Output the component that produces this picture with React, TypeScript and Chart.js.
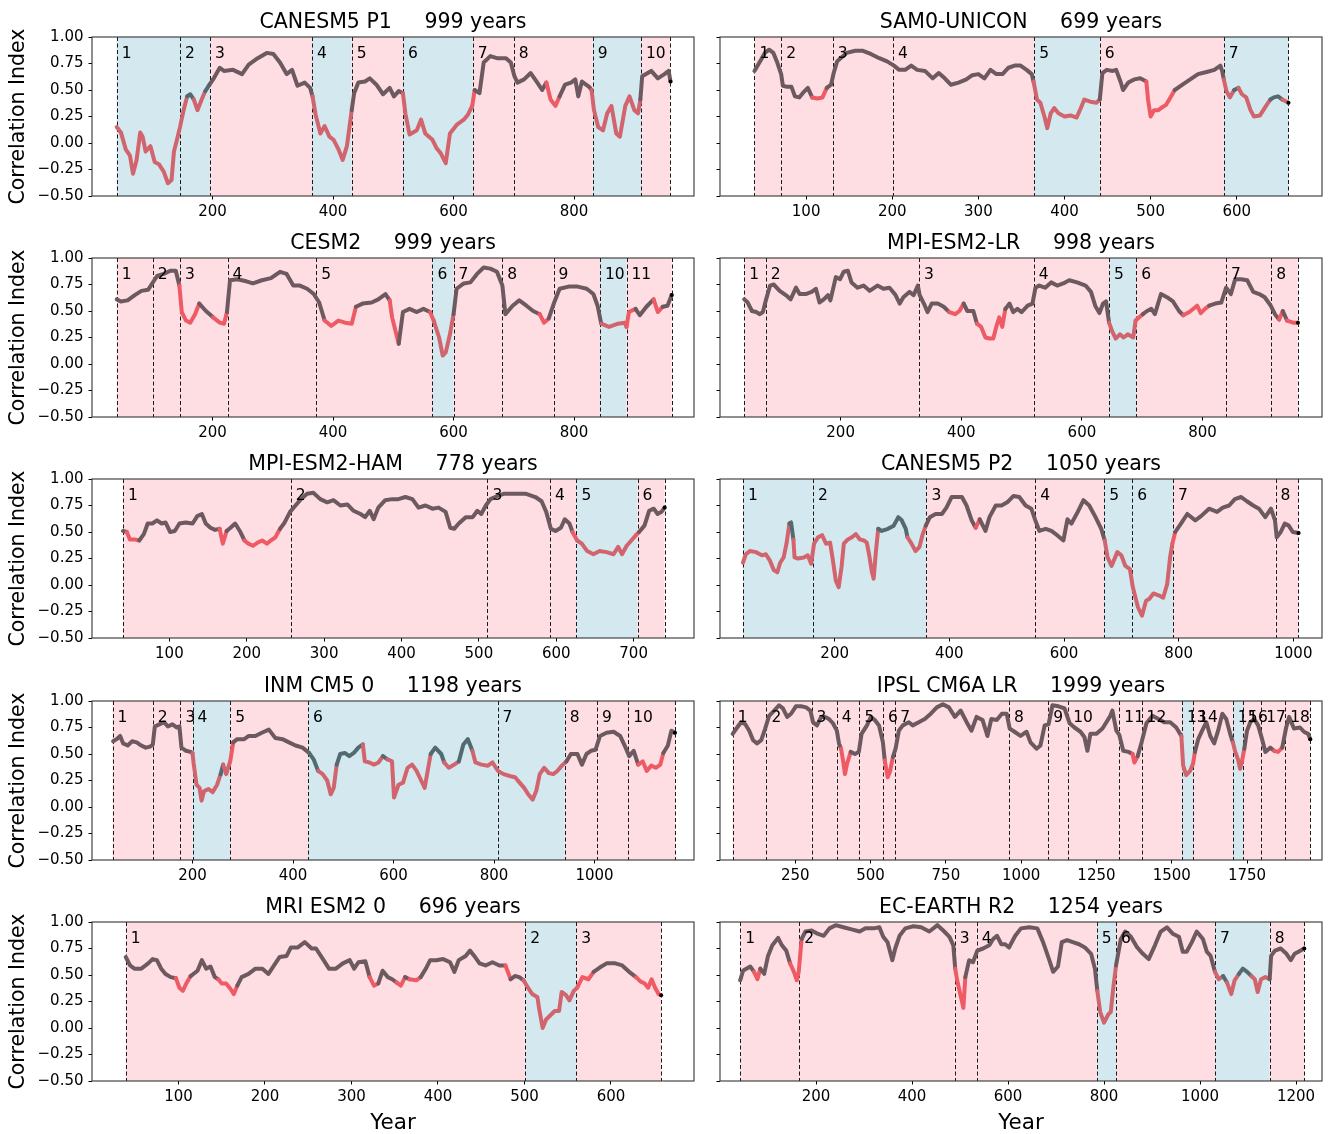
import React, { useEffect, useRef } from 'react';
import { Chart, registerables } from 'chart.js';

Chart.register(...registerables);
Chart.defaults.font.family = "'DejaVu Sans', sans-serif";
Chart.defaults.color = '#000';

// ---------- Data ----------
const PANEL_NAMES = ['CANESM5 P1', 'SAM0-UNICON', 'CESM2', 'MPI-ESM2-LR', 'MPI-ESM2-HAM', 'CANESM5 P2', 'INM CM5 0', 'IPSL CM6A LR', 'MRI ESM2 0', 'EC-EARTH R2'];
const PANEL_YEARS = [999, 699, 999, 998, 778, 1050, 1198, 1999, 696, 1254];
const X_TICKS = [
  [200, 400, 600, 800],
  [100, 200, 300, 400, 500, 600],
  [200, 400, 600, 800],
  [200, 400, 600, 800],
  [100, 200, 300, 400, 500, 600, 700],
  [200, 400, 600, 800, 1000],
  [200, 400, 600, 800, 1000],
  [250, 500, 750, 1000, 1250, 1500, 1750],
  [100, 200, 300, 400, 500, 600],
  [200, 400, 600, 800, 1000, 1200],
];
const Y_TICK_STEP = 0.25;
const Y_MIN = -0.5;
const Y_MAX = 1.0;

// Dashed boundaries of numbered periods, period colours (p = pink, b = blue), low-correlation (red) spans, series
const P1_BOUNDS = [41, 146, 196, 365, 431, 516, 632, 700, 831, 911, 960];
const P1_KINDS = 'bbpbpbppbp';
const P1_RED = [[41, 158], [170, 190], [365, 432], [480, 486], [499, 503], [516, 633], [756, 778], [805, 809], [831, 911]];
const P1_SERIES = [[41,0.15],[48,0.10],[56,-0.06],[63,-0.12],[68,-0.29],[74,-0.16],[80,0.10],[84,0.06],[89,-0.08],[97,-0.03],[104,-0.18],[111,-0.20],[119,-0.27],[126,-0.38],[132,-0.35],[136,-0.08],[141,0.03],[146,0.15],[152,0.31],[158,0.44],[163,0.46],[169,0.41],[175,0.31],[182,0.41],[188,0.49],[195,0.55],[201,0.60],[212,0.71],[219,0.68],[234,0.69],[249,0.65],[260,0.74],[275,0.80],[290,0.85],[301,0.84],[312,0.76],[323,0.65],[332,0.69],[341,0.54],[353,0.57],[362,0.52],[366,0.44],[371,0.27],[379,0.09],[386,0.16],[394,0.06],[401,0.03],[409,-0.06],[416,-0.16],[423,-0.03],[431,0.31],[435,0.47],[442,0.57],[453,0.58],[461,0.61],[472,0.55],[483,0.46],[494,0.52],[501,0.44],[509,0.49],[516,0.47],[520,0.28],[527,0.08],[539,0.12],[546,0.22],[553,0.09],[565,0.03],[572,-0.05],[579,-0.10],[587,-0.19],[594,0.09],[605,0.17],[617,0.22],[624,0.27],[631,0.35],[635,0.50],[643,0.47],[650,0.76],[661,0.82],[672,0.80],[687,0.80],[695,0.76],[701,0.63],[706,0.57],[717,0.60],[728,0.66],[739,0.57],[747,0.50],[754,0.57],[761,0.41],[769,0.35],[776,0.44],[785,0.55],[795,0.57],[802,0.60],[807,0.44],[813,0.58],[825,0.53],[829,0.50],[833,0.31],[840,0.15],[848,0.12],[855,0.28],[862,0.35],[870,0.09],[876,0.06],[885,0.35],[892,0.44],[900,0.31],[906,0.28],[910,0.41],[913,0.63],[928,0.68],[939,0.61],[950,0.65],[957,0.68],[960,0.58]];

const P2_BOUNDS = [40, 71, 131, 201, 365, 441, 585, 660];
const P2_KINDS = 'ppppbpb';
const P2_RED = [[106, 122], [365, 442], [496, 526], [586, 595], [604, 640], [651, 660]];
const P2_SERIES = [[40,0.68],[48,0.79],[52,0.85],[57,0.88],[62,0.85],[66,0.77],[71,0.65],[73,0.54],[78,0.53],[83,0.53],[87,0.44],[92,0.43],[96,0.47],[102,0.52],[107,0.43],[113,0.42],[119,0.43],[124,0.52],[129,0.55],[132,0.66],[136,0.77],[140,0.80],[147,0.85],[157,0.87],[166,0.87],[175,0.84],[185,0.80],[194,0.77],[202,0.73],[208,0.69],[215,0.69],[222,0.73],[229,0.69],[238,0.68],[247,0.61],[254,0.66],[261,0.61],[268,0.55],[277,0.57],[286,0.60],[293,0.64],[300,0.65],[307,0.61],[314,0.69],[321,0.65],[328,0.65],[335,0.71],[342,0.73],[349,0.73],[356,0.69],[362,0.65],[364,0.58],[366,0.50],[368,0.41],[372,0.38],[377,0.24],[380,0.14],[384,0.28],[388,0.33],[393,0.28],[400,0.25],[407,0.26],[414,0.24],[419,0.33],[423,0.41],[430,0.39],[437,0.38],[441,0.41],[444,0.66],[449,0.69],[456,0.68],[460,0.69],[465,0.58],[468,0.50],[474,0.57],[481,0.60],[488,0.61],[495,0.58],[497,0.41],[500,0.25],[504,0.31],[509,0.31],[514,0.34],[518,0.36],[523,0.43],[528,0.50],[537,0.55],[546,0.60],[555,0.65],[565,0.67],[574,0.69],[581,0.73],[583,0.68],[585,0.60],[588,0.49],[592,0.43],[597,0.50],[602,0.52],[606,0.46],[611,0.43],[616,0.31],[620,0.25],[627,0.26],[634,0.35],[639,0.41],[643,0.43],[648,0.44],[653,0.41],[660,0.38]];

const P3_BOUNDS = [41, 101, 146, 225, 372, 565, 600, 681, 766, 843, 887, 962];
const P3_KINDS = 'pppppbpppbp';
const P3_RED = [[147, 176], [198, 226], [383, 440], [495, 512], [563, 601], [745, 762], [843, 889], [895, 905], [935, 943]];
const P3_SERIES = [[41,0.61],[48,0.59],[59,0.60],[71,0.65],[82,0.69],[93,0.70],[100,0.76],[108,0.83],[119,0.85],[130,0.88],[139,0.88],[145,0.74],[149,0.49],[156,0.41],[163,0.39],[171,0.47],[178,0.57],[189,0.50],[201,0.44],[212,0.39],[219,0.38],[224,0.49],[229,0.79],[241,0.80],[256,0.78],[267,0.76],[282,0.79],[297,0.81],[312,0.87],[323,0.85],[334,0.74],[345,0.74],[357,0.71],[368,0.66],[377,0.58],[386,0.41],[397,0.36],[409,0.41],[420,0.39],[431,0.38],[438,0.54],[449,0.57],[464,0.58],[475,0.61],[487,0.66],[494,0.60],[498,0.44],[505,0.28],[509,0.19],[516,0.49],[527,0.52],[539,0.49],[550,0.52],[561,0.49],[567,0.41],[576,0.25],[582,0.08],[587,0.11],[594,0.28],[600,0.47],[605,0.71],[617,0.76],[628,0.77],[639,0.85],[650,0.91],[661,0.90],[672,0.87],[681,0.74],[686,0.47],[698,0.55],[709,0.60],[721,0.55],[732,0.50],[743,0.47],[750,0.39],[758,0.43],[767,0.58],[776,0.71],[791,0.73],[806,0.73],[821,0.71],[832,0.66],[839,0.55],[845,0.38],[858,0.35],[873,0.38],[884,0.39],[887,0.35],[891,0.49],[902,0.52],[909,0.46],[920,0.54],[932,0.61],[939,0.49],[947,0.54],[955,0.55],[962,0.65]];

const P4_BOUNDS = [40, 76, 330, 520, 645, 690, 839, 914, 958];
const P4_KINDS = 'ppppbppp';
const P4_RED = [[378, 402], [426, 473], [645, 704], [766, 810], [926, 932], [940, 960]];
const P4_SERIES = [[40,0.61],[46,0.58],[53,0.50],[60,0.49],[66,0.47],[71,0.49],[76,0.60],[83,0.74],[89,0.75],[99,0.69],[109,0.65],[117,0.61],[126,0.72],[132,0.66],[142,0.66],[152,0.68],[159,0.71],[165,0.58],[172,0.61],[179,0.65],[183,0.60],[192,0.82],[199,0.80],[205,0.87],[212,0.88],[218,0.77],[228,0.72],[238,0.74],[248,0.69],[261,0.74],[271,0.71],[281,0.72],[291,0.65],[298,0.57],[304,0.63],[314,0.68],[321,0.65],[328,0.74],[331,0.65],[338,0.57],[344,0.49],[351,0.57],[361,0.57],[371,0.54],[380,0.49],[390,0.47],[397,0.50],[404,0.57],[410,0.50],[420,0.50],[426,0.38],[433,0.35],[440,0.25],[447,0.24],[453,0.24],[458,0.35],[463,0.44],[468,0.35],[473,0.52],[480,0.57],[486,0.49],[493,0.52],[500,0.49],[510,0.55],[518,0.57],[523,0.72],[529,0.74],[539,0.72],[549,0.77],[559,0.74],[569,0.76],[579,0.79],[592,0.77],[606,0.74],[615,0.68],[622,0.55],[629,0.48],[635,0.57],[640,0.59],[645,0.39],[650,0.31],[656,0.24],[663,0.28],[669,0.25],[676,0.28],[685,0.25],[689,0.41],[695,0.44],[701,0.47],[708,0.50],[715,0.52],[721,0.47],[731,0.66],[741,0.63],[751,0.59],[761,0.50],[768,0.46],[778,0.49],[791,0.55],[797,0.48],[804,0.52],[811,0.55],[821,0.57],[831,0.58],[839,0.72],[847,0.66],[854,0.80],[864,0.80],[874,0.79],[884,0.68],[894,0.66],[903,0.63],[913,0.55],[920,0.47],[927,0.42],[933,0.50],[940,0.41],[950,0.39],[958,0.39]];

const P5_BOUNDS = [40, 257, 511, 592, 626, 705, 740];
const P5_KINDS = 'ppppbp';
const P5_RED = [[47, 63], [166, 172], [195, 244], [620, 706]];
const P5_SERIES = [[40,0.51],[45,0.50],[49,0.43],[55,0.43],[61,0.42],[67,0.48],[72,0.58],[78,0.58],[84,0.61],[90,0.58],[95,0.59],[101,0.50],[107,0.51],[113,0.58],[121,0.59],[130,0.58],[136,0.65],[142,0.67],[147,0.58],[153,0.54],[159,0.52],[165,0.53],[169,0.39],[174,0.51],[179,0.54],[185,0.58],[191,0.51],[197,0.42],[202,0.39],[208,0.37],[214,0.40],[220,0.42],[226,0.39],[231,0.42],[237,0.45],[243,0.53],[249,0.59],[256,0.69],[263,0.75],[270,0.81],[278,0.86],[286,0.87],[295,0.81],[304,0.78],[312,0.80],[321,0.75],[330,0.76],[338,0.70],[347,0.67],[353,0.64],[359,0.70],[364,0.62],[370,0.73],[379,0.80],[388,0.81],[396,0.81],[405,0.83],[414,0.81],[422,0.73],[431,0.75],[440,0.72],[448,0.73],[457,0.69],[463,0.54],[468,0.53],[474,0.58],[483,0.64],[492,0.64],[498,0.70],[503,0.67],[509,0.75],[515,0.81],[524,0.84],[532,0.86],[547,0.86],[561,0.86],[573,0.83],[581,0.79],[587,0.69],[593,0.53],[599,0.51],[606,0.54],[611,0.62],[617,0.58],[621,0.50],[627,0.42],[633,0.39],[640,0.32],[648,0.29],[656,0.32],[665,0.31],[674,0.29],[680,0.36],[685,0.29],[691,0.37],[697,0.42],[703,0.47],[707,0.50],[714,0.56],[720,0.70],[726,0.72],[731,0.67],[736,0.69],[740,0.73]];

const P6_BOUNDS = [40, 162, 360, 550, 670, 719, 790, 969, 1009];
const P6_KINDS = 'bbppbbpp';
const P6_RED = [[40, 121], [128, 276], [326, 359], [446, 450], [671, 794]];
const P6_SERIES = [[40,0.21],[45,0.29],[52,0.32],[63,0.31],[73,0.28],[80,0.29],[87,0.23],[94,0.14],[100,0.12],[105,0.21],[111,0.26],[116,0.39],[121,0.58],[124,0.59],[128,0.43],[130,0.26],[136,0.25],[146,0.26],[153,0.28],[159,0.20],[164,0.39],[171,0.45],[178,0.47],[185,0.39],[192,0.40],[197,0.23],[202,0.04],[207,-0.02],[212,0.17],[216,0.39],[223,0.43],[230,0.45],[237,0.48],[244,0.43],[251,0.42],[256,0.40],[260,0.29],[265,0.12],[268,0.06],[272,0.32],[276,0.53],[282,0.51],[293,0.53],[303,0.56],[311,0.64],[317,0.61],[324,0.53],[327,0.45],[334,0.39],[341,0.32],[348,0.36],[353,0.47],[359,0.56],[366,0.64],[376,0.67],[387,0.67],[395,0.73],[404,0.83],[422,0.83],[430,0.75],[439,0.61],[446,0.54],[453,0.62],[463,0.51],[470,0.64],[481,0.75],[491,0.75],[501,0.78],[512,0.84],[522,0.83],[533,0.75],[543,0.72],[550,0.61],[557,0.51],[568,0.53],[578,0.51],[588,0.47],[599,0.42],[606,0.62],[613,0.58],[624,0.69],[634,0.80],[644,0.75],[655,0.64],[665,0.53],[671,0.42],[676,0.26],[683,0.18],[693,0.31],[700,0.28],[707,0.18],[715,0.15],[720,-0.02],[729,-0.21],[736,-0.29],[743,-0.15],[749,-0.13],[756,-0.08],[766,-0.10],[773,-0.12],[780,0.01],[785,0.26],[789,0.39],[794,0.50],[804,0.58],[815,0.67],[829,0.61],[839,0.65],[853,0.72],[867,0.69],[877,0.73],[888,0.75],[898,0.81],[909,0.83],[919,0.79],[930,0.75],[940,0.72],[951,0.64],[961,0.72],[968,0.61],[971,0.45],[978,0.50],[985,0.58],[992,0.56],[999,0.50],[1009,0.49]];

const P7_BOUNDS = [41, 121, 176, 200, 275, 430, 807, 941, 1005, 1067, 1161];
const P7_KINDS = 'pppbpbbppp';
const P7_RED = [[201, 258], [264, 279], [446, 490], [541, 577], [584, 672], [699, 734], [760, 942], [1084, 1135]];
const P7_SERIES = [[42,0.62],[49,0.64],[56,0.67],[62,0.60],[71,0.58],[80,0.62],[89,0.61],[98,0.58],[107,0.56],[116,0.57],[121,0.59],[125,0.76],[134,0.78],[143,0.80],[151,0.76],[160,0.78],[169,0.75],[174,0.76],[178,0.56],[187,0.53],[196,0.52],[200,0.51],[202,0.42],[208,0.21],[214,0.18],[218,0.06],[223,0.15],[232,0.17],[240,0.14],[249,0.21],[256,0.31],[261,0.40],[267,0.31],[275,0.43],[281,0.61],[289,0.64],[303,0.64],[312,0.67],[325,0.67],[338,0.70],[352,0.73],[365,0.65],[379,0.64],[392,0.61],[405,0.58],[419,0.56],[432,0.51],[441,0.45],[450,0.34],[459,0.31],[468,0.25],[475,0.12],[481,0.18],[487,0.40],[494,0.50],[503,0.51],[512,0.48],[521,0.51],[530,0.56],[539,0.59],[543,0.43],[552,0.42],[561,0.40],[570,0.42],[579,0.48],[588,0.45],[597,0.43],[601,0.09],[610,0.21],[619,0.23],[628,0.37],[637,0.40],[646,0.34],[655,0.25],[662,0.18],[668,0.34],[674,0.50],[683,0.56],[695,0.50],[701,0.42],[710,0.37],[721,0.40],[730,0.43],[739,0.59],[748,0.64],[757,0.53],[763,0.42],[775,0.40],[788,0.39],[797,0.42],[808,0.34],[819,0.31],[833,0.29],[842,0.28],[851,0.23],[860,0.18],[868,0.12],[877,0.07],[884,0.15],[891,0.31],[900,0.37],[909,0.32],[918,0.31],[926,0.34],[935,0.39],[944,0.43],[953,0.50],[966,0.50],[975,0.40],[984,0.50],[993,0.53],[1002,0.54],[1011,0.67],[1024,0.70],[1038,0.71],[1051,0.67],[1060,0.58],[1069,0.48],[1078,0.53],[1087,0.40],[1096,0.43],[1104,0.34],[1113,0.39],[1122,0.37],[1131,0.40],[1137,0.51],[1146,0.58],[1153,0.72],[1160,0.70]];

const P8_BOUNDS = [42, 154, 304, 388, 463, 541, 582, 960, 1090, 1156, 1326, 1400, 1534, 1571, 1703, 1737, 1797, 1877, 1960];
const P8_KINDS = 'ppppppppppppbpbppp';
const P8_RED = [[403, 428], [545, 572], [1372, 1392], [1534, 1575], [1706, 1738], [1835, 1870]];
const P8_SERIES = [[42,0.69],[57,0.75],[70,0.80],[84,0.78],[97,0.72],[110,0.63],[123,0.60],[137,0.63],[150,0.74],[163,0.86],[180,0.91],[196,0.96],[209,0.93],[223,0.85],[236,0.88],[252,0.95],[269,0.95],[286,0.94],[300,0.91],[309,0.80],[322,0.77],[336,0.85],[349,0.85],[362,0.83],[375,0.79],[388,0.72],[395,0.60],[402,0.55],[408,0.45],[415,0.31],[422,0.41],[434,0.52],[448,0.50],[461,0.52],[470,0.69],[488,0.77],[501,0.85],[514,0.82],[528,0.77],[541,0.61],[547,0.44],[557,0.28],[565,0.34],[574,0.47],[583,0.55],[594,0.72],[607,0.77],[627,0.80],[640,0.77],[660,0.80],[680,0.83],[700,0.88],[720,0.94],[740,0.97],[760,0.94],[780,0.85],[799,0.91],[819,0.80],[835,0.72],[852,0.85],[872,0.82],[888,0.67],[901,0.83],[919,0.82],[936,0.88],[952,0.88],[962,0.74],[978,0.71],[998,0.67],[1018,0.71],[1031,0.61],[1051,0.55],[1064,0.58],[1078,0.77],[1091,0.78],[1104,0.96],[1124,0.95],[1144,0.93],[1161,0.79],[1177,0.75],[1197,0.71],[1210,0.66],[1220,0.53],[1230,0.69],[1250,0.69],[1270,0.74],[1283,0.80],[1296,0.86],[1303,0.91],[1316,0.72],[1326,0.68],[1339,0.53],[1356,0.52],[1370,0.50],[1376,0.42],[1387,0.48],[1400,0.61],[1416,0.79],[1436,0.86],[1456,0.83],[1475,0.80],[1495,0.80],[1515,0.75],[1532,0.67],[1538,0.39],[1548,0.30],[1561,0.34],[1571,0.41],[1577,0.52],[1588,0.64],[1601,0.72],[1615,0.80],[1628,0.67],[1641,0.60],[1654,0.72],[1668,0.88],[1681,0.83],[1694,0.69],[1703,0.61],[1710,0.53],[1721,0.44],[1727,0.36],[1734,0.44],[1741,0.55],[1750,0.72],[1761,0.80],[1774,0.83],[1787,0.77],[1800,0.64],[1811,0.52],[1827,0.56],[1840,0.53],[1853,0.52],[1867,0.56],[1880,0.75],[1890,0.85],[1906,0.74],[1926,0.75],[1939,0.71],[1953,0.69],[1960,0.64]];

const P9_BOUNDS = [39, 501, 560, 658];
const P9_KINDS = 'pbp';
const P9_RED = [[98, 112], [145, 170], [320, 333], [354, 360], [365, 382], [480, 486], [500, 578], [631, 658]];
const P9_SERIES = [[39,0.67],[44,0.59],[49,0.56],[57,0.56],[65,0.61],[70,0.65],[75,0.64],[80,0.56],[85,0.51],[91,0.48],[97,0.47],[101,0.38],[105,0.35],[109,0.42],[114,0.49],[122,0.54],[127,0.64],[132,0.56],[137,0.58],[142,0.48],[146,0.46],[150,0.42],[155,0.42],[160,0.37],[164,0.32],[168,0.40],[173,0.48],[181,0.51],[189,0.56],[197,0.56],[204,0.51],[212,0.61],[217,0.67],[225,0.68],[230,0.76],[238,0.76],[246,0.81],[254,0.75],[259,0.75],[267,0.65],[274,0.56],[282,0.56],[290,0.61],[298,0.64],[303,0.56],[308,0.62],[316,0.63],[321,0.48],[326,0.40],[331,0.42],[336,0.54],[342,0.48],[347,0.46],[352,0.43],[357,0.40],[362,0.48],[367,0.46],[375,0.45],[380,0.48],[386,0.56],[391,0.64],[398,0.64],[406,0.65],[414,0.62],[419,0.53],[424,0.64],[432,0.68],[437,0.73],[442,0.68],[448,0.61],[455,0.59],[463,0.62],[471,0.59],[478,0.59],[484,0.46],[489,0.49],[494,0.48],[499,0.45],[504,0.38],[509,0.32],[515,0.29],[517,0.18],[521,0.00],[525,0.08],[530,0.12],[535,0.16],[540,0.16],[543,0.34],[548,0.31],[552,0.26],[557,0.35],[561,0.38],[567,0.48],[574,0.46],[580,0.53],[587,0.57],[595,0.61],[605,0.61],[613,0.59],[621,0.53],[629,0.48],[634,0.44],[639,0.42],[643,0.38],[647,0.46],[651,0.38],[655,0.32],[658,0.31]];

const P10_BOUNDS = [42, 165, 489, 535, 785, 825, 1031, 1145, 1217];
const P10_KINDS = 'ppppbpbp';
const P10_RED = [[74, 82], [148, 168], [489, 510], [525, 531], [784, 823], [1031, 1046], [1053, 1078], [1104, 1146]];
const P10_SERIES = [[42,0.45],[48,0.54],[55,0.56],[63,0.58],[71,0.53],[78,0.46],[84,0.56],[92,0.51],[100,0.68],[109,0.78],[121,0.85],[129,0.78],[138,0.73],[146,0.61],[154,0.53],[160,0.45],[164,0.53],[170,0.84],[178,0.91],[191,0.92],[203,0.89],[216,0.87],[228,0.94],[241,0.97],[257,0.95],[274,0.93],[291,0.91],[303,0.94],[320,0.94],[332,0.95],[340,0.86],[349,0.81],[359,0.64],[365,0.75],[374,0.87],[386,0.94],[403,0.96],[419,0.95],[436,0.91],[453,0.97],[465,0.92],[478,0.86],[486,0.78],[490,0.56],[494,0.45],[498,0.37],[503,0.27],[507,0.19],[511,0.48],[519,0.64],[527,0.62],[536,0.73],[548,0.75],[561,0.78],[569,0.84],[577,0.87],[586,0.79],[594,0.79],[602,0.76],[615,0.87],[627,0.94],[644,0.95],[661,0.94],[673,0.81],[686,0.64],[694,0.53],[704,0.58],[712,0.81],[723,0.83],[735,0.81],[748,0.79],[760,0.76],[773,0.70],[781,0.56],[786,0.35],[792,0.15],[800,0.05],[809,0.13],[814,0.15],[819,0.37],[825,0.59],[835,0.84],[844,0.91],[856,0.86],[869,0.76],[881,0.70],[893,0.65],[906,0.78],[918,0.91],[931,0.95],[943,0.89],[956,0.86],[964,0.72],[972,0.72],[983,0.81],[993,0.91],[1006,0.84],[1014,0.72],[1022,0.68],[1031,0.53],[1039,0.46],[1048,0.49],[1056,0.43],[1065,0.32],[1072,0.45],[1081,0.51],[1089,0.56],[1098,0.53],[1107,0.49],[1114,0.46],[1120,0.34],[1127,0.46],[1136,0.48],[1145,0.46],[1148,0.68],[1156,0.73],[1168,0.75],[1180,0.70],[1189,0.64],[1197,0.70],[1205,0.72],[1217,0.75]];

const ALL_BOUNDS = [P1_BOUNDS, P2_BOUNDS, P3_BOUNDS, P4_BOUNDS, P5_BOUNDS, P6_BOUNDS, P7_BOUNDS, P8_BOUNDS, P9_BOUNDS, P10_BOUNDS];
const ALL_KINDS = [P1_KINDS, P2_KINDS, P3_KINDS, P4_KINDS, P5_KINDS, P6_KINDS, P7_KINDS, P8_KINDS, P9_KINDS, P10_KINDS];
const ALL_RED = [P1_RED, P2_RED, P3_RED, P4_RED, P5_RED, P6_RED, P7_RED, P8_RED, P9_RED, P10_RED];
const ALL_SERIES = [P1_SERIES, P2_SERIES, P3_SERIES, P4_SERIES, P5_SERIES, P6_SERIES, P7_SERIES, P8_SERIES, P9_SERIES, P10_SERIES];

// ---------- Styles ----------
const PINK_BG = '#fedde3';
const BLUE_BG = '#d3e9ef';
const DARK_ON_PINK = '#6c5a60';
const DARK_ON_BLUE = '#536a70';
const RED_ON_PINK = '#ef5b65';
const RED_ON_BLUE = '#d2646d';
const FONT = "'DejaVu Sans', sans-serif";

const ROW_TOPS = [0, 221, 442, 664, 885];
const TITLE_H = 37;
const PLOT_H = 159;

function kindAt(bounds: number[], kinds: string, x: number) {
  for (let i = 0; i < bounds.length - 1; i++) {
    if (x >= bounds[i] && x < bounds[i + 1]) return kinds[i];
  }
  return 'p';
}
function redAt(red: number[][], x: number) {
  return red.some(([a, b]) => x >= a && x <= b);
}
function fmtY(v: number) {
  const s = Math.abs(v).toFixed(2);
  return v < -1e-9 ? '\u2212' + s : s;
}

function Panel({ idx }: { idx: number }) {
  const ref = useRef<HTMLCanvasElement | null>(null);
  const col = idx % 2;
  const row = Math.floor(idx / 2);
  const left = col === 0 ? 0 : 700;
  const top = ROW_TOPS[row];
  const width = col === 0 ? 700 : 628;
  const bottomRow = row === 4;
  const xH = bottomRow ? 55 : 32;
  const height = TITLE_H + PLOT_H + xH;

  useEffect(() => {
    const bounds = ALL_BOUNDS[idx];
    const kinds = ALL_KINDS[idx];
    const red = ALL_RED[idx];
    const series = ALL_SERIES[idx];
    const years = PANEL_YEARS[idx];
    const ticks = X_TICKS[idx];
    const n = series.length;

    const colorAt = (x: number) => {
      const k = kindAt(bounds, kinds, x);
      const r = redAt(red, x);
      if (k === 'b') return r ? RED_ON_BLUE : DARK_ON_BLUE;
      return r ? RED_ON_PINK : DARK_ON_PINK;
    };

    const decor = {
      id: 'decor' + idx,
      beforeDatasetsDraw(chart: any) {
        const { ctx, chartArea: a, scales } = chart;
        const xs = scales.x;
        ctx.save();
        ctx.beginPath();
        ctx.rect(a.left, a.top, a.right - a.left, a.bottom - a.top);
        ctx.clip();
        for (let i = 0; i < bounds.length - 1; i++) {
          const x0 = xs.getPixelForValue(bounds[i]);
          const x1 = xs.getPixelForValue(bounds[i + 1]);
          ctx.fillStyle = kinds[i] === 'b' ? BLUE_BG : PINK_BG;
          ctx.fillRect(x0, a.top, x1 - x0, a.bottom - a.top);
        }
        ctx.setLineDash([4, 2.5]);
        ctx.strokeStyle = '#1a1a1a';
        ctx.lineWidth = 1;
        for (const b of bounds) {
          const px = Math.round(xs.getPixelForValue(b)) + 0.5;
          ctx.beginPath();
          ctx.moveTo(px, a.top);
          ctx.lineTo(px, a.bottom);
          ctx.stroke();
        }
        ctx.restore();
      },
      afterDatasetsDraw(chart: any) {
        const { ctx, chartArea: a, scales } = chart;
        const xs = scales.x;
        ctx.save();
        ctx.font = '15.5px ' + FONT;
        ctx.fillStyle = '#000';
        ctx.textAlign = 'left';
        ctx.textBaseline = 'middle';
        for (let i = 0; i < bounds.length - 1; i++) {
          ctx.fillText(String(i + 1), xs.getPixelForValue(bounds[i]) + 5, a.top + 17);
        }
        ctx.strokeStyle = '#333';
        ctx.lineWidth = 1.1;
        ctx.setLineDash([]);
        ctx.strokeRect(a.left, a.top, a.right - a.left, a.bottom - a.top);
        ctx.restore();
      },
    };

    const chart = new Chart(ref.current as HTMLCanvasElement, {
      type: 'line',
      data: {
        datasets: [
          {
            data: series.map(([x, y]) => ({ x, y })),
            borderWidth: 4,
            borderJoinStyle: 'round',
            borderCapStyle: 'round',
            tension: 0,
            pointRadius: (c: any) => (c.dataIndex === n - 1 ? 2 : 0),
            pointBackgroundColor: '#000',
            pointBorderWidth: 0,
            pointHoverRadius: 0,
            segment: {
              borderColor: (c: any) => colorAt((c.p0.parsed.x + c.p1.parsed.x) / 2),
            },
          } as any,
        ],
      },
      options: {
        responsive: false,
        animation: false,
        events: [],
        layout: { padding: { left: 0, right: 6, top: 0, bottom: 0 } },
        plugins: {
          legend: { display: false },
          tooltip: { enabled: false },
          title: {
            display: true,
            text: `${PANEL_NAMES[idx]}     ${years} years`,
            fullSize: false,
            color: '#000',
            font: { size: 20.5, weight: 'normal', family: FONT },
            padding: { top: 10.4, bottom: 2 },
          },
        },
        scales: {
          x: {
            type: 'linear',
            min: 0,
            max: years,
            afterBuildTicks: (s: any) => {
              s.ticks = ticks.map((v) => ({ value: v }));
            },
            afterFit: (s: any) => {
              s.height = xH;
            },
            ticks: {
              autoSkip: false,
              maxRotation: 0,
              padding: 4,
              color: '#000',
              font: { size: 15, family: FONT },
              callback: (v: any) => String(v),
            },
            grid: { display: true, drawOnChartArea: false, drawTicks: true, tickLength: 3.5, color: '#000' },
            border: { display: false },
            title: {
              display: bottomRow,
              text: 'Year',
              color: '#000',
              font: { size: 21.5, family: FONT },
              padding: { top: 0, bottom: 0 },
            },
          },
          y: {
            type: 'linear',
            min: Y_MIN,
            max: Y_MAX,
            afterFit: (s: any) => {
              s.width = col === 0 ? 92 : 20;
            },
            ticks: {
              stepSize: Y_TICK_STEP,
              padding: 5,
              color: '#000',
              font: { size: 15, family: FONT },
              callback: (v: any) => (col === 0 ? fmtY(Number(v)) : ''),
            },
            grid: { display: true, drawOnChartArea: false, drawTicks: true, tickLength: 3.5, color: '#000' },
            border: { display: false },
            title: {
              display: col === 0,
              text: 'Correlation Index',
              color: '#000',
              font: { size: 20.5, family: FONT },
              padding: { top: 6.7, bottom: 0 },
            },
          },
        },
      },
      plugins: [decor],
    } as any);
    return () => chart.destroy();
  }, [idx]);

  return (
    <canvas
      ref={ref}
      width={width}
      height={height}
      style={{ position: 'absolute', left, top, width, height }}
    />
  );
}

export default function App() {
  return (
    <div
      style={{
        position: 'absolute',
        left: 0,
        top: 0,
        width: 1328,
        height: 1134,
        overflow: 'hidden',
        background: '#fff',
      }}
    >
      {PANEL_NAMES.map((_, i) => (
        <Panel key={i} idx={i} />
      ))}
    </div>
  );
}
